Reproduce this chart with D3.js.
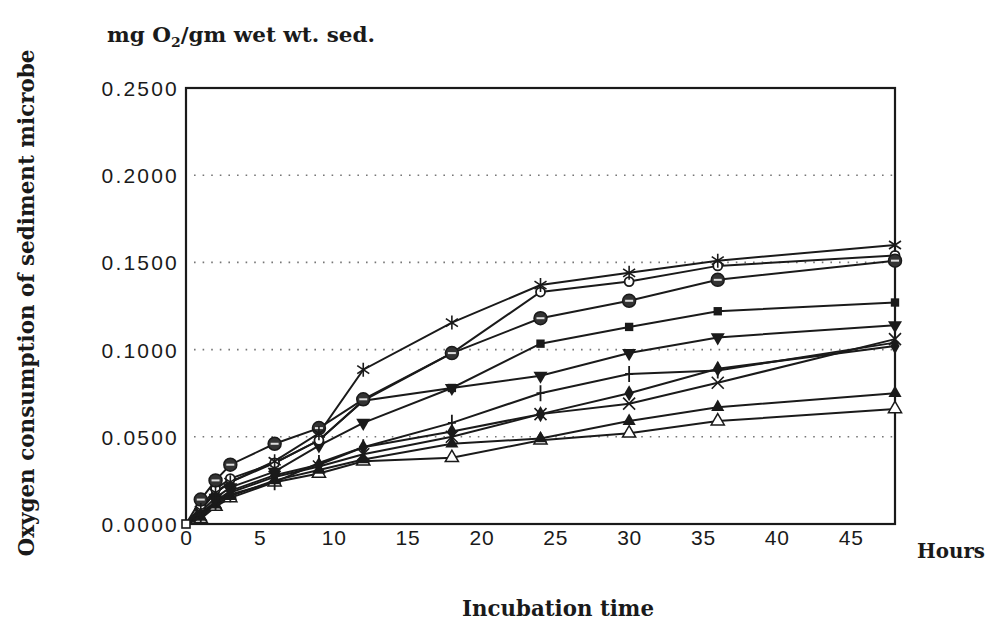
<!DOCTYPE html>
<html>
<head>
<meta charset="utf-8">
<script src="https://cdn.jsdelivr.net/npm/d3@7"></script>
<style>
  body { margin: 0; background: #fff; }
  svg { display: block; }
</style>
</head>
<body>
<svg id="chart" width="990" height="626"></svg>
<script>
// Incubation times (hours)
const hours = [0, 1, 2, 3, 6, 9, 12, 18, 24, 30, 36, 48];

// Oxygen consumption (mg O2 / gm wet wt. sed.), one array per sample
const sAsterisk = [0, 0.008, 0.018, 0.024, 0.036, 0.052, 0.0885, 0.1155, 0.137, 0.144, 0.151, 0.160];
const sRing     = [0, 0.010, 0.020, 0.026, 0.035, 0.048, 0.0707, 0.098, 0.133, 0.139, 0.148, 0.154];
const sCircle   = [0, 0.014, 0.025, 0.034, 0.046, 0.055, 0.0715, 0.098, 0.118, 0.128, 0.140, 0.151];
const sSquare   = [0, 0.009, 0.018, 0.024, 0.035, 0.048, 0.0707, 0.078, 0.1034, 0.113, 0.122, 0.127];
const sTriDown  = [0, 0.007, 0.015, 0.021, 0.030, 0.045, 0.058, 0.078, 0.085, 0.098, 0.107, 0.114];
const sPlus     = [0, 0.005, 0.012, 0.017, 0.024, 0.035, 0.044, 0.058, 0.075, 0.086, 0.088, 0.104];
const sDiamond  = [0, 0.006, 0.013, 0.019, 0.028, 0.034, 0.044, 0.053, 0.063, 0.075, 0.089, 0.102];
const sCross    = [0, 0.005, 0.012, 0.018, 0.027, 0.033, 0.040, 0.050, 0.063, 0.069, 0.081, 0.106];
const sTriUp    = [0, 0.004, 0.011, 0.016, 0.025, 0.031, 0.037, 0.046, 0.049, 0.059, 0.067, 0.075];
const sTriOpen  = [0, 0.003, 0.010, 0.015, 0.024, 0.029, 0.036, 0.038, 0.048, 0.052, 0.059, 0.066];

const seriesValues = [sTriOpen, sTriUp, sCross, sDiamond, sPlus, sTriDown, sSquare, sRing, sCircle, sAsterisk];
const seriesMarkers = ["triOpen", "triUp", "cross", "diamond", "plus", "triDown", "square", "ring", "circle", "asterisk"];

const yTicks = [0, 0.05, 0.10, 0.15, 0.20, 0.25];
const gridValues = [0.05, 0.10, 0.15, 0.20];
const xTicks = [0, 5, 10, 15, 20, 25, 30, 35, 40, 45];

// Layout
const margin = { top: 88, right: 95, bottom: 102, left: 186 },
  width = 990 - margin.left - margin.right,
  height = 626 - margin.top - margin.bottom;

const svg = d3.select("#chart");
const g = svg.append("g")
  .attr("transform", `translate(${margin.left},${margin.top})`);

const x = d3.scaleLinear().domain([0, 48]).range([0, width]);
const y = d3.scaleLinear().domain([0, 0.25]).range([height, 0]);

// Dotted grid lines
g.selectAll(".grid")
  .data(gridValues)
  .enter()
  .append("line")
  .attr("x1", 8)
  .attr("x2", width)
  .attr("y1", d => y(d))
  .attr("y2", d => y(d))
  .attr("stroke", "#777")
  .attr("stroke-width", 1.6)
  .attr("stroke-dasharray", "1.6,7");

// Frame
g.append("rect")
  .attr("width", width)
  .attr("height", height)
  .attr("fill", "none")
  .attr("stroke", "#1a1a1a")
  .attr("stroke-width", 2.2);

// Y axis
const yAxis = g.append("g")
  .call(d3.axisLeft(y).tickValues(yTicks).tickFormat(d3.format(".4f")).tickSize(0).tickPadding(7));
yAxis.select(".domain").remove();
yAxis.selectAll("text")
  .attr("font-family", "'Liberation Sans', Arial, sans-serif")
  .attr("font-size", 21)
  .attr("letter-spacing", 2.2)
  .attr("fill", "#1a1a1a")
  .attr("dy", "0.36em");

// X axis
const xAxis = g.append("g")
  .attr("transform", `translate(0,${height})`)
  .call(d3.axisBottom(x).tickValues(xTicks).tickSize(0).tickPadding(17));
xAxis.select(".domain").remove();
xAxis.selectAll("text")
  .attr("font-family", "'Liberation Sans', Arial, sans-serif")
  .attr("font-size", 21)
  .attr("letter-spacing", 0.8)
  .attr("fill", "#1a1a1a")
  .attr("dy", "0.2em");

// Lines
const line = d3.line()
  .x((d, i) => x(hours[i]))
  .y(d => y(d));

g.selectAll(".series")
  .data(seriesValues)
  .enter()
  .append("path")
  .attr("class", "series")
  .attr("d", d => line(d))
  .attr("fill", "none")
  .attr("stroke", "#1a1a1a")
  .attr("stroke-width", 2);

// Marker shapes
function drawMarker(sel, type) {
  const ink = "#1a1a1a";
  if (type === "asterisk") {
    sel.append("path").attr("d", "M0,-7L0,7M-6,-4L6,4M-6,4L6,-4")
      .attr("stroke", ink).attr("stroke-width", 1.6).attr("fill", "none");
  } else if (type === "cross") {
    sel.append("path").attr("d", "M-6,-6L6,6M-6,6L6,-6")
      .attr("stroke", ink).attr("stroke-width", 1.6).attr("fill", "none");
  } else if (type === "plus") {
    sel.append("path").attr("d", "M0,-8L0,8M-4,0L4,0")
      .attr("stroke", ink).attr("stroke-width", 1.8).attr("fill", "none");
  } else if (type === "square") {
    sel.append("path").attr("d", d3.symbol(d3.symbolSquare, 70)())
      .attr("fill", ink);
  } else if (type === "diamond") {
    sel.append("path").attr("d", d3.symbol(d3.symbolDiamond, 75)())
      .attr("fill", ink);
  } else if (type === "triUp") {
    sel.append("path").attr("d", d3.symbol(d3.symbolTriangle, 75)())
      .attr("fill", ink);
  } else if (type === "triDown") {
    sel.append("path").attr("d", d3.symbol(d3.symbolTriangle, 85)())
      .attr("transform", "rotate(180)")
      .attr("fill", ink);
  } else if (type === "triOpen") {
    sel.append("path").attr("d", d3.symbol(d3.symbolTriangle, 75)())
      .attr("fill", "#fff").attr("stroke", ink).attr("stroke-width", 1.5);
  } else if (type === "ring") {
    sel.append("circle").attr("r", 4.5)
      .attr("fill", "#fff").attr("stroke", ink).attr("stroke-width", 1.8);
  } else if (type === "circle") {
    sel.append("circle").attr("r", 6.5)
      .attr("fill", "#333").attr("stroke", ink).attr("stroke-width", 1.5);
    sel.append("line").attr("x1", -4).attr("x2", 4)
      .attr("stroke", "#ddd").attr("stroke-width", 2);
  }
}

seriesValues.forEach((vals, si) => {
  g.append("g")
    .selectAll("g")
    .data(vals.slice(1))
    .enter()
    .append("g")
    .attr("transform", (d, i) => `translate(${x(hours[i + 1])},${y(d)})`)
    .each(function() { drawMarker(d3.select(this), seriesMarkers[si]); });
});

// Open square at the origin
g.append("rect")
  .attr("x", x(0) - 4).attr("y", y(0) - 4)
  .attr("width", 8).attr("height", 8)
  .attr("fill", "#fff").attr("stroke", "#1a1a1a").attr("stroke-width", 1.6);

// Titles
const serif = "'DejaVu Serif', 'Liberation Serif', serif";

svg.append("text")
  .attr("x", 107)
  .attr("y", 42)
  .attr("font-family", serif)
  .attr("font-weight", "bold")
  .attr("font-size", 20)
  .attr("textLength", 268)
  .attr("lengthAdjust", "spacingAndGlyphs")
  .attr("fill", "#1a1a1a")
  .html("mg O<tspan dy='5' font-size='13'>2</tspan><tspan dy='-5'>/gm wet wt. sed.</tspan>");

svg.append("text")
  .attr("transform", "translate(34,303) rotate(-90)")
  .attr("text-anchor", "middle")
  .attr("font-family", serif)
  .attr("font-weight", "bold")
  .attr("font-size", 23)
  .attr("textLength", 507)
  .attr("lengthAdjust", "spacingAndGlyphs")
  .attr("fill", "#1a1a1a")
  .text("Oxygen consumption of sediment microbe");

svg.append("text")
  .attr("x", 917)
  .attr("y", 558)
  .attr("font-family", serif)
  .attr("font-weight", "bold")
  .attr("font-size", 21)
  .attr("textLength", 68)
  .attr("lengthAdjust", "spacingAndGlyphs")
  .attr("fill", "#1a1a1a")
  .text("Hours");

svg.append("text")
  .attr("x", 462)
  .attr("y", 616)
  .attr("font-family", serif)
  .attr("font-weight", "bold")
  .attr("font-size", 22)
  .attr("textLength", 192)
  .attr("lengthAdjust", "spacingAndGlyphs")
  .attr("fill", "#1a1a1a")
  .text("Incubation time");
</script>
</body>
</html>
